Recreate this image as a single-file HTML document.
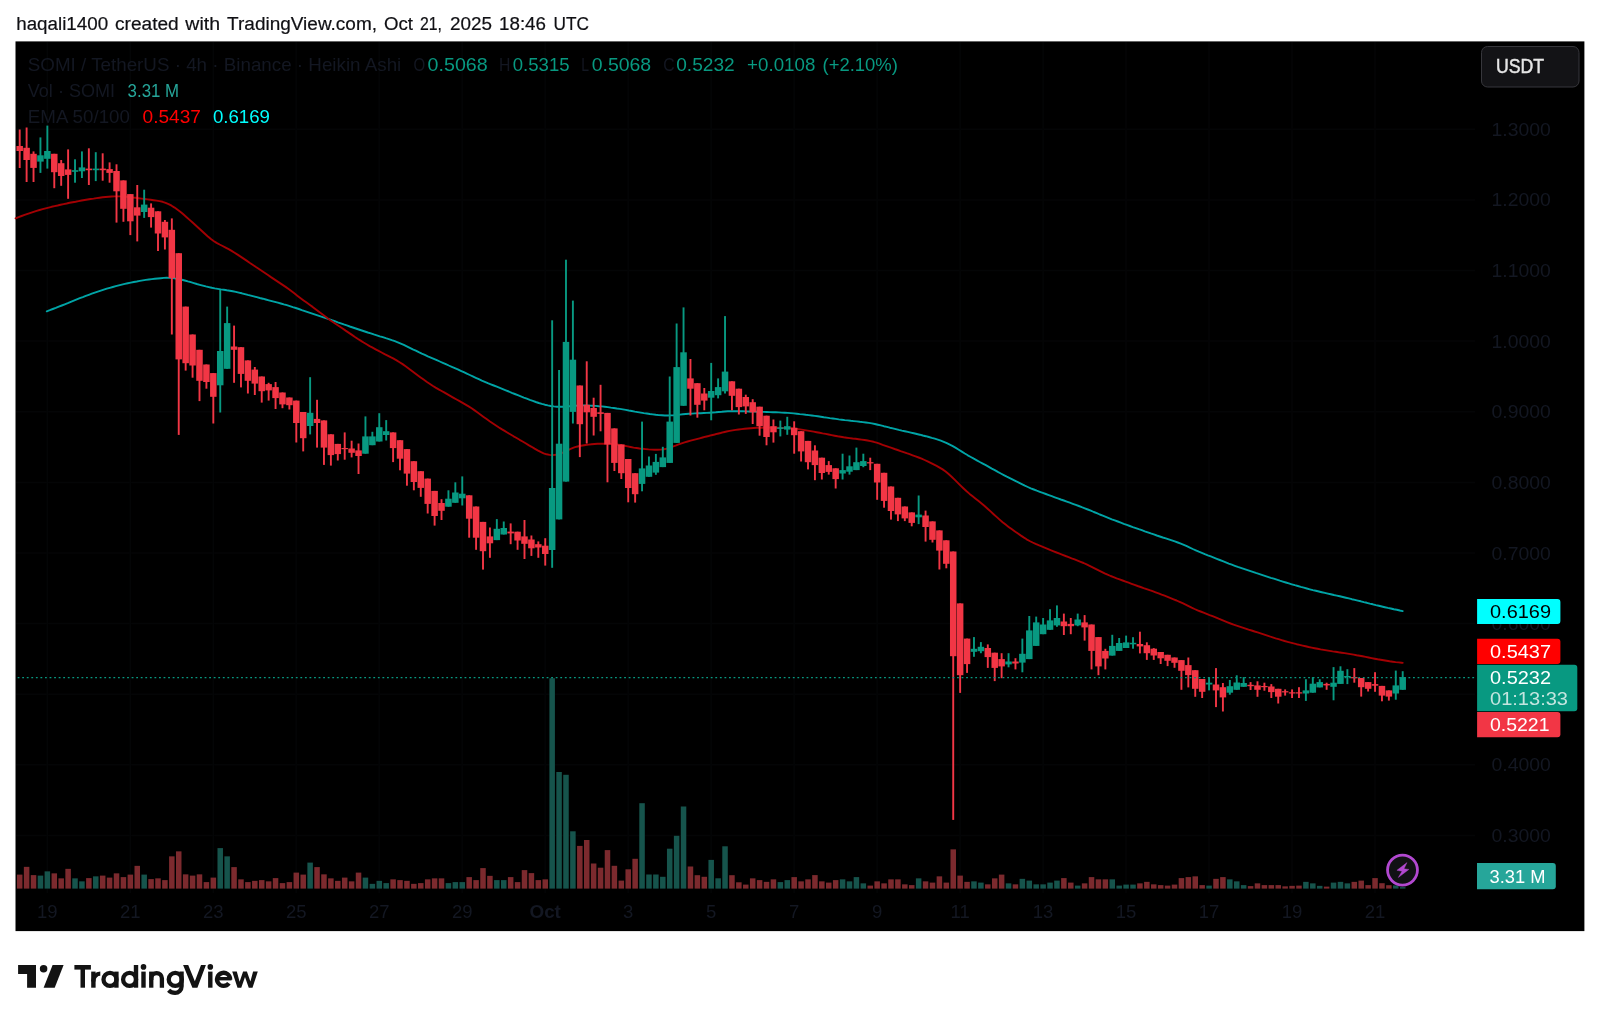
<!DOCTYPE html>
<html><head><meta charset="utf-8"><title>SOMI / TetherUS chart</title>
<style>html,body{margin:0;padding:0;background:#fff;}body{width:1600px;height:1023px;overflow:hidden;font-family:"Liberation Sans",sans-serif;}svg{display:block;will-change:transform;}text{font-family:"Liberation Sans",sans-serif;}</style>
</head><body>
<svg width="1600" height="1023" viewBox="0 0 1600 1023">
<rect x="0" y="0" width="1600" height="1023" fill="#ffffff"/>
<text x="16.2" y="29.9" font-size="18" fill="#101014" stroke="#101014" stroke-width="0.2" textLength="91.9" lengthAdjust="spacingAndGlyphs">haqali1400</text>
<text x="115" y="29.9" font-size="18" fill="#101014" stroke="#101014" stroke-width="0.2" textLength="63.75" lengthAdjust="spacingAndGlyphs">created</text>
<text x="185.3" y="29.9" font-size="18" fill="#101014" stroke="#101014" stroke-width="0.2" textLength="34.7" lengthAdjust="spacingAndGlyphs">with</text>
<text x="227.1" y="29.9" font-size="18" fill="#101014" stroke="#101014" stroke-width="0.2" textLength="149.9" lengthAdjust="spacingAndGlyphs">TradingView.com,</text>
<text x="384" y="29.9" font-size="18" fill="#101014" stroke="#101014" stroke-width="0.2" textLength="29" lengthAdjust="spacingAndGlyphs">Oct</text>
<text x="420" y="29.9" font-size="18" fill="#101014" stroke="#101014" stroke-width="0.2" textLength="22" lengthAdjust="spacingAndGlyphs">21,</text>
<text x="450" y="29.9" font-size="18" fill="#101014" stroke="#101014" stroke-width="0.2" textLength="42" lengthAdjust="spacingAndGlyphs">2025</text>
<text x="499" y="29.9" font-size="18" fill="#101014" stroke="#101014" stroke-width="0.2" textLength="47" lengthAdjust="spacingAndGlyphs">18:46</text>
<text x="553.6" y="29.9" font-size="18" fill="#101014" stroke="#101014" stroke-width="0.2" textLength="35.4" lengthAdjust="spacingAndGlyphs">UTC</text>
<rect x="15.5" y="41.4" width="1568.9" height="889.7" fill="#000000"/>
<g stroke="#040506" stroke-width="1.5">
<line x1="16" y1="129.3" x2="1475" y2="129.3"/>
<line x1="16" y1="199.9" x2="1475" y2="199.9"/>
<line x1="16" y1="270.5" x2="1475" y2="270.5"/>
<line x1="16" y1="341.1" x2="1475" y2="341.1"/>
<line x1="16" y1="411.7" x2="1475" y2="411.7"/>
<line x1="16" y1="482.4" x2="1475" y2="482.4"/>
<line x1="16" y1="553.0" x2="1475" y2="553.0"/>
<line x1="16" y1="623.6" x2="1475" y2="623.6"/>
<line x1="16" y1="694.2" x2="1475" y2="694.2"/>
<line x1="16" y1="764.8" x2="1475" y2="764.8"/>
<line x1="16" y1="835.4" x2="1475" y2="835.4"/>
<line x1="47.3" y1="42" x2="47.3" y2="893"/>
<line x1="130.3" y1="42" x2="130.3" y2="893"/>
<line x1="213.3" y1="42" x2="213.3" y2="893"/>
<line x1="296.2" y1="42" x2="296.2" y2="893"/>
<line x1="379.2" y1="42" x2="379.2" y2="893"/>
<line x1="462.2" y1="42" x2="462.2" y2="893"/>
<line x1="545.2" y1="42" x2="545.2" y2="893"/>
<line x1="628.2" y1="42" x2="628.2" y2="893"/>
<line x1="711.1" y1="42" x2="711.1" y2="893"/>
<line x1="794.1" y1="42" x2="794.1" y2="893"/>
<line x1="877.1" y1="42" x2="877.1" y2="893"/>
<line x1="960.1" y1="42" x2="960.1" y2="893"/>
<line x1="1043.1" y1="42" x2="1043.1" y2="893"/>
<line x1="1126.0" y1="42" x2="1126.0" y2="893"/>
<line x1="1209.0" y1="42" x2="1209.0" y2="893"/>
<line x1="1292.0" y1="42" x2="1292.0" y2="893"/>
<line x1="1375.0" y1="42" x2="1375.0" y2="893"/>
</g>
<g shape-rendering="auto">
<rect x="16.95" y="874.60" width="5.5" height="14.00" fill="#7c2a2e"/>
<rect x="23.86" y="866.85" width="5.5" height="21.75" fill="#7c2a2e"/>
<rect x="30.78" y="875.10" width="5.5" height="13.50" fill="#7c2a2e"/>
<rect x="37.70" y="875.60" width="5.5" height="13.00" fill="#16544c"/>
<rect x="44.61" y="871.35" width="5.5" height="17.25" fill="#16544c"/>
<rect x="51.53" y="873.35" width="5.5" height="15.25" fill="#7c2a2e"/>
<rect x="58.44" y="878.35" width="5.5" height="10.25" fill="#7c2a2e"/>
<rect x="65.36" y="868.85" width="5.5" height="19.75" fill="#7c2a2e"/>
<rect x="72.27" y="878.35" width="5.5" height="10.25" fill="#16544c"/>
<rect x="79.19" y="881.35" width="5.5" height="7.25" fill="#16544c"/>
<rect x="86.10" y="878.10" width="5.5" height="10.50" fill="#7c2a2e"/>
<rect x="93.02" y="876.35" width="5.5" height="12.25" fill="#16544c"/>
<rect x="99.93" y="875.60" width="5.5" height="13.00" fill="#7c2a2e"/>
<rect x="106.84" y="877.60" width="5.5" height="11.00" fill="#7c2a2e"/>
<rect x="113.76" y="873.35" width="5.5" height="15.25" fill="#7c2a2e"/>
<rect x="120.67" y="877.10" width="5.5" height="11.50" fill="#7c2a2e"/>
<rect x="127.59" y="874.60" width="5.5" height="14.00" fill="#7c2a2e"/>
<rect x="134.50" y="865.85" width="5.5" height="22.75" fill="#7c2a2e"/>
<rect x="141.42" y="874.60" width="5.5" height="14.00" fill="#16544c"/>
<rect x="148.33" y="879.10" width="5.5" height="9.50" fill="#7c2a2e"/>
<rect x="155.25" y="878.35" width="5.5" height="10.25" fill="#7c2a2e"/>
<rect x="162.16" y="880.10" width="5.5" height="8.50" fill="#7c2a2e"/>
<rect x="169.08" y="856.35" width="5.5" height="32.25" fill="#7c2a2e"/>
<rect x="175.99" y="851.35" width="5.5" height="37.25" fill="#7c2a2e"/>
<rect x="182.91" y="874.35" width="5.5" height="14.25" fill="#7c2a2e"/>
<rect x="189.82" y="875.60" width="5.5" height="13.00" fill="#7c2a2e"/>
<rect x="196.74" y="874.35" width="5.5" height="14.25" fill="#7c2a2e"/>
<rect x="203.66" y="882.10" width="5.5" height="6.50" fill="#7c2a2e"/>
<rect x="210.57" y="877.60" width="5.5" height="11.00" fill="#7c2a2e"/>
<rect x="217.48" y="848.10" width="5.5" height="40.50" fill="#16544c"/>
<rect x="224.40" y="856.35" width="5.5" height="32.25" fill="#16544c"/>
<rect x="231.31" y="867.10" width="5.5" height="21.50" fill="#7c2a2e"/>
<rect x="238.23" y="879.35" width="5.5" height="9.25" fill="#7c2a2e"/>
<rect x="245.14" y="882.10" width="5.5" height="6.50" fill="#7c2a2e"/>
<rect x="252.06" y="880.85" width="5.5" height="7.75" fill="#7c2a2e"/>
<rect x="258.98" y="880.10" width="5.5" height="8.50" fill="#7c2a2e"/>
<rect x="265.89" y="881.35" width="5.5" height="7.25" fill="#7c2a2e"/>
<rect x="272.81" y="878.10" width="5.5" height="10.50" fill="#7c2a2e"/>
<rect x="279.72" y="883.10" width="5.5" height="5.50" fill="#7c2a2e"/>
<rect x="286.63" y="882.10" width="5.5" height="6.50" fill="#7c2a2e"/>
<rect x="293.55" y="872.60" width="5.5" height="16.00" fill="#7c2a2e"/>
<rect x="300.46" y="874.60" width="5.5" height="14.00" fill="#7c2a2e"/>
<rect x="307.38" y="862.60" width="5.5" height="26.00" fill="#16544c"/>
<rect x="314.30" y="867.10" width="5.5" height="21.50" fill="#7c2a2e"/>
<rect x="321.21" y="874.35" width="5.5" height="14.25" fill="#7c2a2e"/>
<rect x="328.12" y="878.35" width="5.5" height="10.25" fill="#7c2a2e"/>
<rect x="335.04" y="880.85" width="5.5" height="7.75" fill="#7c2a2e"/>
<rect x="341.95" y="877.60" width="5.5" height="11.00" fill="#7c2a2e"/>
<rect x="348.87" y="881.35" width="5.5" height="7.25" fill="#7c2a2e"/>
<rect x="355.78" y="872.60" width="5.5" height="16.00" fill="#7c2a2e"/>
<rect x="362.70" y="877.60" width="5.5" height="11.00" fill="#16544c"/>
<rect x="369.62" y="883.85" width="5.5" height="4.75" fill="#16544c"/>
<rect x="376.53" y="880.85" width="5.5" height="7.75" fill="#16544c"/>
<rect x="383.44" y="883.10" width="5.5" height="5.50" fill="#16544c"/>
<rect x="390.36" y="879.35" width="5.5" height="9.25" fill="#7c2a2e"/>
<rect x="397.27" y="880.10" width="5.5" height="8.50" fill="#7c2a2e"/>
<rect x="404.19" y="880.85" width="5.5" height="7.75" fill="#7c2a2e"/>
<rect x="411.11" y="883.85" width="5.5" height="4.75" fill="#7c2a2e"/>
<rect x="418.02" y="883.10" width="5.5" height="5.50" fill="#7c2a2e"/>
<rect x="424.94" y="879.35" width="5.5" height="9.25" fill="#7c2a2e"/>
<rect x="431.85" y="878.35" width="5.5" height="10.25" fill="#7c2a2e"/>
<rect x="438.76" y="878.35" width="5.5" height="10.25" fill="#7c2a2e"/>
<rect x="445.68" y="883.10" width="5.5" height="5.50" fill="#16544c"/>
<rect x="452.59" y="882.10" width="5.5" height="6.50" fill="#16544c"/>
<rect x="459.51" y="882.10" width="5.5" height="6.50" fill="#16544c"/>
<rect x="466.43" y="877.10" width="5.5" height="11.50" fill="#7c2a2e"/>
<rect x="473.34" y="880.10" width="5.5" height="8.50" fill="#7c2a2e"/>
<rect x="480.25" y="868.10" width="5.5" height="20.50" fill="#7c2a2e"/>
<rect x="487.17" y="875.85" width="5.5" height="12.75" fill="#7c2a2e"/>
<rect x="494.08" y="880.10" width="5.5" height="8.50" fill="#16544c"/>
<rect x="501.00" y="880.10" width="5.5" height="8.50" fill="#16544c"/>
<rect x="507.91" y="877.10" width="5.5" height="11.50" fill="#7c2a2e"/>
<rect x="514.83" y="882.10" width="5.5" height="6.50" fill="#7c2a2e"/>
<rect x="521.75" y="870.10" width="5.5" height="18.50" fill="#7c2a2e"/>
<rect x="528.66" y="873.10" width="5.5" height="15.50" fill="#7c2a2e"/>
<rect x="535.58" y="880.10" width="5.5" height="8.50" fill="#7c2a2e"/>
<rect x="542.49" y="879.35" width="5.5" height="9.25" fill="#7c2a2e"/>
<rect x="549.41" y="678.20" width="5.5" height="210.40" fill="#16544c"/>
<rect x="556.32" y="772.00" width="5.5" height="116.60" fill="#16544c"/>
<rect x="563.24" y="774.80" width="5.5" height="113.80" fill="#16544c"/>
<rect x="570.15" y="831.30" width="5.5" height="57.30" fill="#16544c"/>
<rect x="577.07" y="845.90" width="5.5" height="42.70" fill="#7c2a2e"/>
<rect x="583.98" y="840.00" width="5.5" height="48.60" fill="#7c2a2e"/>
<rect x="590.90" y="863.50" width="5.5" height="25.10" fill="#7c2a2e"/>
<rect x="597.81" y="867.70" width="5.5" height="20.90" fill="#7c2a2e"/>
<rect x="604.73" y="850.10" width="5.5" height="38.50" fill="#7c2a2e"/>
<rect x="611.64" y="865.80" width="5.5" height="22.80" fill="#7c2a2e"/>
<rect x="618.56" y="880.60" width="5.5" height="8.00" fill="#7c2a2e"/>
<rect x="625.47" y="869.30" width="5.5" height="19.30" fill="#7c2a2e"/>
<rect x="632.39" y="858.80" width="5.5" height="29.80" fill="#7c2a2e"/>
<rect x="639.30" y="803.20" width="5.5" height="85.40" fill="#16544c"/>
<rect x="646.22" y="874.50" width="5.5" height="14.10" fill="#16544c"/>
<rect x="653.13" y="874.50" width="5.5" height="14.10" fill="#16544c"/>
<rect x="660.05" y="876.80" width="5.5" height="11.80" fill="#16544c"/>
<rect x="666.96" y="848.70" width="5.5" height="39.90" fill="#16544c"/>
<rect x="673.88" y="835.80" width="5.5" height="52.80" fill="#16544c"/>
<rect x="680.79" y="806.50" width="5.5" height="82.10" fill="#16544c"/>
<rect x="687.71" y="866.50" width="5.5" height="22.10" fill="#7c2a2e"/>
<rect x="694.62" y="875.20" width="5.5" height="13.40" fill="#7c2a2e"/>
<rect x="701.54" y="876.80" width="5.5" height="11.80" fill="#7c2a2e"/>
<rect x="708.45" y="859.90" width="5.5" height="28.70" fill="#16544c"/>
<rect x="715.37" y="878.30" width="5.5" height="10.30" fill="#16544c"/>
<rect x="722.28" y="846.30" width="5.5" height="42.30" fill="#16544c"/>
<rect x="729.20" y="875.20" width="5.5" height="13.40" fill="#7c2a2e"/>
<rect x="736.11" y="882.30" width="5.5" height="6.30" fill="#7c2a2e"/>
<rect x="743.03" y="884.60" width="5.5" height="4.00" fill="#7c2a2e"/>
<rect x="749.94" y="878.35" width="5.5" height="10.25" fill="#7c2a2e"/>
<rect x="756.86" y="880.10" width="5.5" height="8.50" fill="#7c2a2e"/>
<rect x="763.77" y="881.85" width="5.5" height="6.75" fill="#7c2a2e"/>
<rect x="770.69" y="879.35" width="5.5" height="9.25" fill="#7c2a2e"/>
<rect x="777.60" y="882.10" width="5.5" height="6.50" fill="#16544c"/>
<rect x="784.52" y="880.10" width="5.5" height="8.50" fill="#16544c"/>
<rect x="791.43" y="877.10" width="5.5" height="11.50" fill="#7c2a2e"/>
<rect x="798.35" y="881.35" width="5.5" height="7.25" fill="#7c2a2e"/>
<rect x="805.26" y="879.35" width="5.5" height="9.25" fill="#7c2a2e"/>
<rect x="812.18" y="875.10" width="5.5" height="13.50" fill="#7c2a2e"/>
<rect x="819.09" y="881.35" width="5.5" height="7.25" fill="#7c2a2e"/>
<rect x="826.00" y="882.60" width="5.5" height="6.00" fill="#7c2a2e"/>
<rect x="832.92" y="880.10" width="5.5" height="8.50" fill="#7c2a2e"/>
<rect x="839.84" y="879.35" width="5.5" height="9.25" fill="#16544c"/>
<rect x="846.75" y="881.35" width="5.5" height="7.25" fill="#16544c"/>
<rect x="853.67" y="877.10" width="5.5" height="11.50" fill="#16544c"/>
<rect x="860.58" y="883.35" width="5.5" height="5.25" fill="#16544c"/>
<rect x="867.50" y="885.60" width="5.5" height="3.00" fill="#7c2a2e"/>
<rect x="874.41" y="881.35" width="5.5" height="7.25" fill="#7c2a2e"/>
<rect x="881.33" y="883.35" width="5.5" height="5.25" fill="#7c2a2e"/>
<rect x="888.24" y="879.35" width="5.5" height="9.25" fill="#7c2a2e"/>
<rect x="895.16" y="879.35" width="5.5" height="9.25" fill="#7c2a2e"/>
<rect x="902.07" y="884.35" width="5.5" height="4.25" fill="#7c2a2e"/>
<rect x="908.99" y="885.10" width="5.5" height="3.50" fill="#7c2a2e"/>
<rect x="915.90" y="878.35" width="5.5" height="10.25" fill="#16544c"/>
<rect x="922.82" y="881.35" width="5.5" height="7.25" fill="#7c2a2e"/>
<rect x="929.73" y="882.60" width="5.5" height="6.00" fill="#7c2a2e"/>
<rect x="936.65" y="876.35" width="5.5" height="12.25" fill="#7c2a2e"/>
<rect x="943.56" y="882.60" width="5.5" height="6.00" fill="#7c2a2e"/>
<rect x="950.48" y="849.35" width="5.5" height="39.25" fill="#7c2a2e"/>
<rect x="957.39" y="875.60" width="5.5" height="13.00" fill="#7c2a2e"/>
<rect x="964.31" y="881.85" width="5.5" height="6.75" fill="#7c2a2e"/>
<rect x="971.22" y="881.35" width="5.5" height="7.25" fill="#16544c"/>
<rect x="978.14" y="882.60" width="5.5" height="6.00" fill="#16544c"/>
<rect x="985.05" y="884.35" width="5.5" height="4.25" fill="#7c2a2e"/>
<rect x="991.97" y="878.35" width="5.5" height="10.25" fill="#7c2a2e"/>
<rect x="998.88" y="874.60" width="5.5" height="14.00" fill="#7c2a2e"/>
<rect x="1005.80" y="883.35" width="5.5" height="5.25" fill="#16544c"/>
<rect x="1012.71" y="884.35" width="5.5" height="4.25" fill="#7c2a2e"/>
<rect x="1019.62" y="878.85" width="5.5" height="9.75" fill="#16544c"/>
<rect x="1026.54" y="880.60" width="5.5" height="8.00" fill="#16544c"/>
<rect x="1033.45" y="884.35" width="5.5" height="4.25" fill="#16544c"/>
<rect x="1040.37" y="884.35" width="5.5" height="4.25" fill="#16544c"/>
<rect x="1047.29" y="882.60" width="5.5" height="6.00" fill="#16544c"/>
<rect x="1054.20" y="880.60" width="5.5" height="8.00" fill="#16544c"/>
<rect x="1061.12" y="878.10" width="5.5" height="10.50" fill="#7c2a2e"/>
<rect x="1068.03" y="882.60" width="5.5" height="6.00" fill="#7c2a2e"/>
<rect x="1074.95" y="885.60" width="5.5" height="3.00" fill="#16544c"/>
<rect x="1081.86" y="883.35" width="5.5" height="5.25" fill="#7c2a2e"/>
<rect x="1088.78" y="877.10" width="5.5" height="11.50" fill="#7c2a2e"/>
<rect x="1095.69" y="879.35" width="5.5" height="9.25" fill="#7c2a2e"/>
<rect x="1102.61" y="879.35" width="5.5" height="9.25" fill="#7c2a2e"/>
<rect x="1109.52" y="879.35" width="5.5" height="9.25" fill="#16544c"/>
<rect x="1116.43" y="885.60" width="5.5" height="3.00" fill="#16544c"/>
<rect x="1123.35" y="884.60" width="5.5" height="4.00" fill="#16544c"/>
<rect x="1130.27" y="884.60" width="5.5" height="4.00" fill="#16544c"/>
<rect x="1137.18" y="883.35" width="5.5" height="5.25" fill="#7c2a2e"/>
<rect x="1144.10" y="881.85" width="5.5" height="6.75" fill="#7c2a2e"/>
<rect x="1151.01" y="884.35" width="5.5" height="4.25" fill="#7c2a2e"/>
<rect x="1157.92" y="885.10" width="5.5" height="3.50" fill="#7c2a2e"/>
<rect x="1164.84" y="885.60" width="5.5" height="3.00" fill="#7c2a2e"/>
<rect x="1171.76" y="884.60" width="5.5" height="4.00" fill="#7c2a2e"/>
<rect x="1178.67" y="878.10" width="5.5" height="10.50" fill="#7c2a2e"/>
<rect x="1185.59" y="877.10" width="5.5" height="11.50" fill="#7c2a2e"/>
<rect x="1192.50" y="876.35" width="5.5" height="12.25" fill="#7c2a2e"/>
<rect x="1199.41" y="885.10" width="5.5" height="3.50" fill="#7c2a2e"/>
<rect x="1206.33" y="885.60" width="5.5" height="3.00" fill="#16544c"/>
<rect x="1213.25" y="878.85" width="5.5" height="9.75" fill="#7c2a2e"/>
<rect x="1220.16" y="877.10" width="5.5" height="11.50" fill="#7c2a2e"/>
<rect x="1227.08" y="879.35" width="5.5" height="9.25" fill="#16544c"/>
<rect x="1233.99" y="881.35" width="5.5" height="7.25" fill="#16544c"/>
<rect x="1240.90" y="885.10" width="5.5" height="3.50" fill="#16544c"/>
<rect x="1247.82" y="886.10" width="5.5" height="2.50" fill="#7c2a2e"/>
<rect x="1254.74" y="883.35" width="5.5" height="5.25" fill="#7c2a2e"/>
<rect x="1261.65" y="885.10" width="5.5" height="3.50" fill="#7c2a2e"/>
<rect x="1268.57" y="885.10" width="5.5" height="3.50" fill="#7c2a2e"/>
<rect x="1275.48" y="885.10" width="5.5" height="3.50" fill="#7c2a2e"/>
<rect x="1282.39" y="886.35" width="5.5" height="2.25" fill="#7c2a2e"/>
<rect x="1289.31" y="885.85" width="5.5" height="2.75" fill="#7c2a2e"/>
<rect x="1296.23" y="885.60" width="5.5" height="3.00" fill="#7c2a2e"/>
<rect x="1303.14" y="881.85" width="5.5" height="6.75" fill="#16544c"/>
<rect x="1310.06" y="883.35" width="5.5" height="5.25" fill="#16544c"/>
<rect x="1316.97" y="885.85" width="5.5" height="2.75" fill="#16544c"/>
<rect x="1323.88" y="886.60" width="5.5" height="2.00" fill="#7c2a2e"/>
<rect x="1330.80" y="882.60" width="5.5" height="6.00" fill="#16544c"/>
<rect x="1337.72" y="881.85" width="5.5" height="6.75" fill="#16544c"/>
<rect x="1344.63" y="883.35" width="5.5" height="5.25" fill="#16544c"/>
<rect x="1351.55" y="881.85" width="5.5" height="6.75" fill="#7c2a2e"/>
<rect x="1358.46" y="880.60" width="5.5" height="8.00" fill="#7c2a2e"/>
<rect x="1365.38" y="885.10" width="5.5" height="3.50" fill="#7c2a2e"/>
<rect x="1372.29" y="878.10" width="5.5" height="10.50" fill="#7c2a2e"/>
<rect x="1379.21" y="883.20" width="5.5" height="5.40" fill="#7c2a2e"/>
<rect x="1386.12" y="885.20" width="5.5" height="3.40" fill="#7c2a2e"/>
<rect x="1393.04" y="885.40" width="5.5" height="3.20" fill="#16544c"/>
<rect x="1399.95" y="887.10" width="5.5" height="1.50" fill="#16544c"/>
</g>
<path d="M46.8,311.3 L49.8,310.2 L52.8,309.0 L55.8,307.9 L58.8,306.7 L61.8,305.5 L64.8,304.3 L67.8,303.1 L70.8,301.8 L73.8,300.6 L76.8,299.4 L79.8,298.2 L82.8,297.1 L85.8,295.9 L88.8,294.8 L91.8,293.7 L94.8,292.7 L97.8,291.7 L100.8,290.7 L103.8,289.7 L106.8,288.7 L109.8,287.8 L112.8,287.0 L115.8,286.2 L118.8,285.4 L121.8,284.6 L124.8,283.9 L127.8,283.2 L130.8,282.6 L133.8,282.0 L136.8,281.5 L139.8,280.9 L142.8,280.4 L145.8,279.9 L148.8,279.5 L151.8,279.1 L154.8,278.8 L157.8,278.5 L160.8,278.2 L163.8,277.9 L166.8,277.8 L169.8,277.9 L172.8,278.1 L175.8,278.6 L178.8,279.1 L181.8,279.8 L184.8,280.5 L187.8,281.4 L190.8,282.2 L193.8,283.1 L196.8,284.0 L199.8,284.8 L202.8,285.6 L205.8,286.4 L208.8,287.1 L211.8,287.8 L214.8,288.4 L217.8,288.9 L220.8,289.4 L223.8,289.8 L226.8,290.3 L229.8,290.7 L232.8,291.3 L235.8,291.9 L238.8,292.6 L241.8,293.3 L244.8,294.1 L247.8,294.9 L250.8,295.6 L253.8,296.4 L256.8,297.2 L259.8,298.0 L262.8,298.7 L265.8,299.5 L268.8,300.3 L271.8,301.1 L274.8,301.9 L277.8,302.7 L280.8,303.5 L283.8,304.4 L286.8,305.2 L289.8,306.1 L292.8,307.1 L295.8,308.0 L298.8,309.0 L301.8,310.1 L304.8,311.1 L307.8,312.1 L310.8,313.1 L313.8,314.1 L316.8,315.1 L319.8,316.1 L322.8,317.1 L325.8,318.1 L328.8,319.1 L331.8,320.2 L334.8,321.2 L337.8,322.3 L340.8,323.3 L343.8,324.4 L346.8,325.4 L349.8,326.5 L352.8,327.5 L355.8,328.5 L358.8,329.5 L361.8,330.5 L364.8,331.5 L367.8,332.5 L370.8,333.4 L373.8,334.4 L376.8,335.3 L379.8,336.3 L382.8,337.2 L385.8,338.2 L388.8,339.1 L391.8,340.2 L394.8,341.2 L397.8,342.3 L400.8,343.6 L403.8,344.9 L406.8,346.3 L409.8,347.8 L412.8,349.3 L415.8,350.7 L418.8,352.2 L421.8,353.6 L424.8,354.9 L427.8,356.3 L430.8,357.6 L433.8,358.9 L436.8,360.2 L439.8,361.5 L442.8,362.8 L445.8,364.1 L448.8,365.5 L451.8,366.8 L454.8,368.1 L457.8,369.4 L460.8,370.8 L463.8,372.2 L466.8,373.6 L469.8,375.0 L472.8,376.4 L475.8,377.8 L478.8,379.2 L481.8,380.6 L484.8,381.8 L487.8,383.1 L490.8,384.3 L493.8,385.5 L496.8,386.7 L499.8,387.9 L502.8,389.1 L505.8,390.3 L508.8,391.5 L511.8,392.8 L514.8,394.0 L517.8,395.2 L520.8,396.4 L523.8,397.6 L526.8,398.7 L529.8,399.9 L532.8,400.9 L535.8,402.0 L538.8,403.0 L541.8,403.9 L544.8,404.7 L547.8,405.4 L550.8,406.0 L553.8,406.4 L556.8,406.7 L559.8,406.8 L562.8,406.7 L565.8,406.5 L568.8,406.3 L571.8,406.1 L574.8,405.8 L577.8,405.6 L580.8,405.4 L583.8,405.4 L586.8,405.4 L589.8,405.6 L592.8,405.7 L595.8,405.9 L598.8,406.2 L601.8,406.4 L604.8,406.7 L607.8,407.1 L610.8,407.6 L613.8,408.0 L616.8,408.5 L619.8,408.9 L622.8,409.4 L625.8,409.9 L628.8,410.5 L631.8,411.0 L634.8,411.6 L637.8,412.1 L640.8,412.6 L643.8,413.1 L646.8,413.5 L649.8,414.0 L652.8,414.4 L655.8,414.8 L658.8,415.1 L661.8,415.3 L664.8,415.5 L667.8,415.5 L670.8,415.4 L673.8,415.2 L676.8,414.9 L679.8,414.6 L682.8,414.3 L685.8,414.0 L688.8,413.8 L691.8,413.6 L694.8,413.4 L697.8,413.3 L700.8,413.2 L703.8,413.0 L706.8,412.9 L709.8,412.7 L712.8,412.5 L715.8,412.3 L718.8,412.0 L721.8,411.8 L724.8,411.5 L727.8,411.3 L730.8,411.2 L733.8,411.2 L736.8,411.2 L739.8,411.2 L742.8,411.3 L745.8,411.4 L748.8,411.5 L751.8,411.5 L754.8,411.6 L757.8,411.7 L760.8,411.8 L763.8,411.9 L766.8,412.0 L769.8,412.1 L772.8,412.2 L775.8,412.3 L778.8,412.4 L781.8,412.6 L784.8,412.7 L787.8,412.9 L790.8,413.1 L793.8,413.4 L796.8,413.7 L799.8,414.1 L802.8,414.4 L805.8,414.8 L808.8,415.1 L811.8,415.5 L814.8,415.9 L817.8,416.3 L820.8,416.7 L823.8,417.2 L826.8,417.6 L829.8,418.1 L832.8,418.5 L835.8,418.9 L838.8,419.4 L841.8,419.7 L844.8,420.1 L847.8,420.4 L850.8,420.8 L853.8,421.1 L856.8,421.4 L859.8,421.8 L862.8,422.1 L865.8,422.5 L868.8,422.9 L871.8,423.4 L874.8,424.0 L877.8,424.7 L880.8,425.4 L883.8,426.2 L886.8,426.9 L889.8,427.7 L892.8,428.4 L895.8,429.1 L898.8,429.9 L901.8,430.6 L904.8,431.2 L907.8,431.9 L910.8,432.6 L913.8,433.3 L916.8,434.0 L919.8,434.7 L922.8,435.5 L925.8,436.2 L928.8,437.0 L931.8,437.9 L934.8,438.7 L937.8,439.6 L940.8,440.6 L943.8,441.8 L946.8,443.1 L949.8,444.6 L952.8,446.2 L955.8,447.9 L958.8,449.7 L961.8,451.6 L964.8,453.5 L967.8,455.3 L970.8,457.0 L973.8,458.7 L976.8,460.3 L979.8,462.0 L982.8,463.6 L985.8,465.2 L988.8,466.9 L991.8,468.6 L994.8,470.2 L997.8,471.9 L1000.8,473.5 L1003.8,475.1 L1006.8,476.7 L1009.8,478.2 L1012.8,479.7 L1015.8,481.2 L1018.8,482.7 L1021.8,484.2 L1024.8,485.7 L1027.8,487.0 L1030.8,488.3 L1033.8,489.5 L1036.8,490.7 L1039.8,491.8 L1042.8,492.9 L1045.8,494.0 L1048.8,495.1 L1051.8,496.2 L1054.8,497.3 L1057.8,498.4 L1060.8,499.5 L1063.8,500.5 L1066.8,501.6 L1069.8,502.7 L1072.8,503.8 L1075.8,504.9 L1078.8,506.0 L1081.8,507.2 L1084.8,508.3 L1087.8,509.5 L1090.8,510.7 L1093.8,512.0 L1096.8,513.2 L1099.8,514.5 L1102.8,515.7 L1105.8,516.9 L1108.8,518.1 L1111.8,519.3 L1114.8,520.4 L1117.8,521.5 L1120.8,522.6 L1123.8,523.8 L1126.8,524.9 L1129.8,526.0 L1132.8,527.1 L1135.8,528.1 L1138.8,529.2 L1141.8,530.2 L1144.8,531.3 L1147.8,532.3 L1150.8,533.4 L1153.8,534.4 L1156.8,535.5 L1159.8,536.5 L1162.8,537.5 L1165.8,538.4 L1168.8,539.4 L1171.8,540.4 L1174.8,541.4 L1177.8,542.5 L1180.8,543.6 L1183.8,544.9 L1186.8,546.2 L1189.8,547.6 L1192.8,549.0 L1195.8,550.3 L1198.8,551.6 L1201.8,552.8 L1204.8,554.1 L1207.8,555.3 L1210.8,556.4 L1213.8,557.6 L1216.8,558.8 L1219.8,560.0 L1222.8,561.2 L1225.8,562.4 L1228.8,563.6 L1231.8,564.7 L1234.8,565.8 L1237.8,566.9 L1240.8,567.9 L1243.8,568.9 L1246.8,569.9 L1249.8,570.9 L1252.8,571.9 L1255.8,572.9 L1258.8,573.8 L1261.8,574.8 L1264.8,575.8 L1267.8,576.8 L1270.8,577.8 L1273.8,578.7 L1276.8,579.7 L1279.8,580.7 L1282.8,581.6 L1285.8,582.5 L1288.8,583.4 L1291.8,584.3 L1294.8,585.2 L1297.8,586.0 L1300.8,586.9 L1303.8,587.7 L1306.8,588.5 L1309.8,589.3 L1312.8,590.1 L1315.8,590.8 L1318.8,591.5 L1321.8,592.2 L1324.8,592.9 L1327.8,593.6 L1330.8,594.3 L1333.8,595.0 L1336.8,595.6 L1339.8,596.3 L1342.8,597.0 L1345.8,597.7 L1348.8,598.4 L1351.8,599.2 L1354.8,599.9 L1357.8,600.6 L1360.8,601.3 L1363.8,602.1 L1366.8,602.8 L1369.8,603.6 L1372.8,604.3 L1375.8,605.1 L1378.8,605.8 L1381.8,606.5 L1384.8,607.2 L1387.8,607.9 L1390.8,608.5 L1393.8,609.2 L1396.8,609.8 L1399.8,610.5 L1402.7,611.1" fill="none" stroke="#00a4a6" stroke-width="1.9" stroke-linejoin="round" stroke-linecap="round"/>
<path d="M15.6,218.3 L18.6,217.2 L21.6,216.0 L24.6,214.9 L27.6,213.8 L30.6,212.8 L33.6,211.8 L36.6,210.9 L39.6,210.0 L42.6,209.2 L45.6,208.4 L48.6,207.6 L51.6,206.8 L54.6,206.1 L57.6,205.5 L60.6,204.8 L63.6,204.1 L66.6,203.5 L69.6,202.8 L72.6,202.2 L75.6,201.7 L78.6,201.1 L81.6,200.5 L84.6,200.0 L87.6,199.5 L90.6,199.0 L93.6,198.6 L96.6,198.1 L99.6,197.7 L102.6,197.3 L105.6,197.0 L108.6,196.7 L111.6,196.5 L114.6,196.4 L117.6,196.4 L120.6,196.4 L123.6,196.6 L126.6,196.8 L129.6,197.1 L132.6,197.5 L135.6,197.8 L138.6,198.2 L141.6,198.6 L144.6,199.0 L147.6,199.4 L150.6,199.8 L153.6,200.2 L156.6,200.6 L159.6,201.1 L162.6,201.8 L165.6,202.8 L168.6,204.1 L171.6,205.7 L174.6,207.6 L177.6,209.8 L180.6,212.1 L183.6,214.6 L186.6,217.2 L189.6,219.9 L192.6,222.5 L195.6,225.2 L198.6,228.0 L201.6,230.7 L204.6,233.5 L207.6,236.2 L210.6,238.7 L213.6,241.0 L216.6,242.9 L219.6,244.5 L222.6,246.0 L225.6,247.6 L228.6,249.2 L231.6,250.9 L234.6,252.7 L237.6,254.6 L240.6,256.6 L243.6,258.6 L246.6,260.6 L249.6,262.7 L252.6,264.7 L255.6,266.8 L258.6,268.8 L261.6,270.8 L264.6,272.8 L267.6,274.8 L270.6,276.9 L273.6,278.9 L276.6,280.9 L279.6,282.9 L282.6,284.9 L285.6,286.9 L288.6,289.0 L291.6,291.3 L294.6,293.5 L297.6,295.9 L300.6,298.2 L303.6,300.4 L306.6,302.6 L309.6,304.8 L312.6,306.9 L315.6,309.2 L318.6,311.5 L321.6,313.8 L324.6,316.1 L327.6,318.3 L330.6,320.5 L333.6,322.5 L336.6,324.5 L339.6,326.5 L342.6,328.5 L345.6,330.6 L348.6,332.6 L351.6,334.6 L354.6,336.7 L357.6,338.7 L360.6,340.6 L363.6,342.5 L366.6,344.3 L369.6,346.1 L372.6,347.7 L375.6,349.3 L378.6,350.9 L381.6,352.5 L384.6,354.1 L387.6,355.6 L390.6,357.2 L393.6,358.7 L396.6,360.4 L399.6,362.2 L402.6,364.1 L405.6,366.2 L408.6,368.4 L411.6,370.7 L414.6,372.9 L417.6,375.2 L420.6,377.4 L423.6,379.6 L426.6,381.8 L429.6,383.8 L432.6,385.8 L435.6,387.6 L438.6,389.3 L441.6,391.0 L444.6,392.7 L447.6,394.4 L450.6,396.1 L453.6,397.8 L456.6,399.5 L459.6,401.2 L462.6,402.9 L465.6,404.6 L468.6,406.4 L471.6,408.3 L474.6,410.4 L477.6,412.5 L480.6,414.7 L483.6,416.9 L486.6,419.1 L489.6,421.2 L492.6,423.2 L495.6,425.2 L498.6,427.2 L501.6,429.1 L504.6,430.9 L507.6,432.7 L510.6,434.5 L513.6,436.3 L516.6,438.0 L519.6,439.8 L522.6,441.5 L525.6,443.3 L528.6,445.1 L531.6,446.8 L534.6,448.6 L537.6,450.3 L540.6,451.9 L543.6,453.3 L546.6,454.3 L549.6,454.9 L552.6,455.1 L555.6,454.8 L558.6,454.1 L561.6,453.1 L564.6,451.8 L567.6,450.3 L570.6,448.9 L573.6,447.7 L576.6,446.7 L579.6,446.0 L582.6,445.5 L585.6,445.0 L588.6,444.6 L591.6,444.3 L594.6,444.0 L597.6,443.8 L600.6,443.7 L603.6,443.6 L606.6,443.7 L609.6,443.8 L612.6,444.1 L615.6,444.4 L618.6,444.8 L621.6,445.3 L624.6,445.8 L627.6,446.4 L630.6,447.0 L633.6,447.6 L636.6,448.0 L639.6,448.5 L642.6,448.8 L645.6,449.1 L648.6,449.4 L651.6,449.6 L654.6,449.7 L657.6,449.8 L660.6,449.6 L663.6,449.3 L666.6,448.7 L669.6,447.8 L672.6,446.7 L675.6,445.6 L678.6,444.4 L681.6,443.4 L684.6,442.4 L687.6,441.5 L690.6,440.7 L693.6,439.9 L696.6,439.1 L699.6,438.3 L702.6,437.5 L705.6,436.7 L708.6,436.0 L711.6,435.2 L714.6,434.5 L717.6,433.7 L720.6,433.0 L723.6,432.2 L726.6,431.5 L729.6,430.9 L732.6,430.4 L735.6,429.9 L738.6,429.5 L741.6,429.1 L744.6,428.8 L747.6,428.5 L750.6,428.2 L753.6,428.0 L756.6,427.8 L759.6,427.7 L762.6,427.7 L765.6,427.6 L768.6,427.6 L771.6,427.7 L774.6,427.8 L777.6,427.8 L780.6,427.9 L783.6,427.9 L786.6,427.9 L789.6,428.0 L792.6,428.2 L795.6,428.6 L798.6,429.1 L801.6,429.6 L804.6,430.1 L807.6,430.6 L810.6,431.1 L813.6,431.6 L816.6,432.2 L819.6,432.8 L822.6,433.4 L825.6,433.9 L828.6,434.5 L831.6,435.1 L834.6,435.7 L837.6,436.3 L840.6,436.8 L843.6,437.3 L846.6,437.7 L849.6,438.1 L852.6,438.5 L855.6,438.8 L858.6,439.2 L861.6,439.6 L864.6,440.0 L867.6,440.5 L870.6,441.1 L873.6,441.8 L876.6,442.7 L879.6,443.7 L882.6,444.8 L885.6,445.8 L888.6,446.9 L891.6,447.9 L894.6,449.0 L897.6,450.0 L900.6,451.1 L903.6,452.1 L906.6,453.2 L909.6,454.2 L912.6,455.3 L915.6,456.4 L918.6,457.5 L921.6,458.7 L924.6,460.0 L927.6,461.4 L930.6,462.9 L933.6,464.4 L936.6,465.9 L939.6,467.6 L942.6,469.4 L945.6,471.5 L948.6,474.0 L951.6,476.7 L954.6,479.6 L957.6,482.6 L960.6,485.6 L963.6,488.5 L966.6,491.3 L969.6,493.9 L972.6,496.3 L975.6,498.7 L978.6,501.1 L981.6,503.5 L984.6,506.0 L987.6,508.7 L990.6,511.4 L993.6,514.2 L996.6,516.9 L999.6,519.6 L1002.6,522.2 L1005.6,524.6 L1008.6,526.9 L1011.6,529.1 L1014.6,531.2 L1017.6,533.3 L1020.6,535.4 L1023.6,537.4 L1026.6,539.3 L1029.6,541.0 L1032.6,542.5 L1035.6,543.9 L1038.6,545.2 L1041.6,546.4 L1044.6,547.6 L1047.6,548.8 L1050.6,550.1 L1053.6,551.3 L1056.6,552.5 L1059.6,553.6 L1062.6,554.8 L1065.6,556.0 L1068.6,557.1 L1071.6,558.3 L1074.6,559.4 L1077.6,560.6 L1080.6,561.8 L1083.6,563.0 L1086.6,564.4 L1089.6,565.8 L1092.6,567.3 L1095.6,568.8 L1098.6,570.3 L1101.6,571.8 L1104.6,573.3 L1107.6,574.7 L1110.6,576.0 L1113.6,577.1 L1116.6,578.3 L1119.6,579.4 L1122.6,580.5 L1125.6,581.6 L1128.6,582.7 L1131.6,583.8 L1134.6,584.9 L1137.6,586.0 L1140.6,587.0 L1143.6,588.1 L1146.6,589.1 L1149.6,590.2 L1152.6,591.2 L1155.6,592.3 L1158.6,593.4 L1161.6,594.6 L1164.6,595.7 L1167.6,596.9 L1170.6,598.1 L1173.6,599.3 L1176.6,600.5 L1179.6,601.8 L1182.6,603.2 L1185.6,604.6 L1188.6,606.1 L1191.6,607.6 L1194.6,609.0 L1197.6,610.3 L1200.6,611.5 L1203.6,612.7 L1206.6,613.9 L1209.6,615.1 L1212.6,616.2 L1215.6,617.4 L1218.6,618.7 L1221.6,619.9 L1224.6,621.1 L1227.6,622.3 L1230.6,623.5 L1233.6,624.6 L1236.6,625.6 L1239.6,626.6 L1242.6,627.6 L1245.6,628.6 L1248.6,629.6 L1251.6,630.5 L1254.6,631.5 L1257.6,632.4 L1260.6,633.4 L1263.6,634.4 L1266.6,635.4 L1269.6,636.4 L1272.6,637.3 L1275.6,638.3 L1278.6,639.2 L1281.6,640.1 L1284.6,641.0 L1287.6,641.8 L1290.6,642.6 L1293.6,643.4 L1296.6,644.2 L1299.6,644.9 L1302.6,645.6 L1305.6,646.3 L1308.6,647.0 L1311.6,647.6 L1314.6,648.2 L1317.6,648.8 L1320.6,649.4 L1323.6,649.9 L1326.6,650.4 L1329.6,650.9 L1332.6,651.4 L1335.6,651.8 L1338.6,652.3 L1341.6,652.7 L1344.6,653.1 L1347.6,653.6 L1350.6,654.1 L1353.6,654.6 L1356.6,655.2 L1359.6,655.7 L1362.6,656.3 L1365.6,656.9 L1368.6,657.5 L1371.6,658.1 L1374.6,658.7 L1377.6,659.3 L1380.6,659.8 L1383.6,660.3 L1386.6,660.8 L1389.6,661.3 L1392.6,661.7 L1395.6,662.1 L1398.6,662.4 L1401.6,662.7 L1402.7,662.9" fill="none" stroke="#a30003" stroke-width="1.9" stroke-linejoin="round" stroke-linecap="round"/>
<g>
<rect x="18.75" y="129.5" width="1.9" height="38.5" fill="#f23645"/>
<rect x="16.45" y="146.0" width="6.5" height="5.0" fill="#f23645"/>
<rect x="25.66" y="127.5" width="1.9" height="54.5" fill="#f23645"/>
<rect x="23.36" y="147.8" width="6.5" height="12.2" fill="#f23645"/>
<rect x="32.58" y="151.4" width="1.9" height="30.6" fill="#f23645"/>
<rect x="30.28" y="153.8" width="6.5" height="14.1" fill="#f23645"/>
<rect x="39.49" y="137.4" width="1.9" height="35.5" fill="#089981"/>
<rect x="37.20" y="155.3" width="6.5" height="6.3" fill="#089981"/>
<rect x="46.41" y="125.6" width="1.9" height="43.0" fill="#089981"/>
<rect x="44.11" y="151.0" width="6.5" height="7.8" fill="#089981"/>
<rect x="53.33" y="153.8" width="1.9" height="34.4" fill="#f23645"/>
<rect x="51.03" y="153.8" width="6.5" height="18.4" fill="#f23645"/>
<rect x="60.24" y="160.0" width="1.9" height="25.8" fill="#f23645"/>
<rect x="57.94" y="163.2" width="6.5" height="12.8" fill="#f23645"/>
<rect x="67.16" y="149.4" width="1.9" height="49.4" fill="#f23645"/>
<rect x="64.86" y="169.4" width="6.5" height="5.5" fill="#f23645"/>
<rect x="74.07" y="159.3" width="1.9" height="23.4" fill="#089981"/>
<rect x="71.77" y="170.2" width="6.5" height="1.6" fill="#089981"/>
<rect x="80.98" y="151.4" width="1.9" height="26.6" fill="#089981"/>
<rect x="78.69" y="167.4" width="6.5" height="3.9" fill="#089981"/>
<rect x="87.90" y="148.3" width="1.9" height="36.7" fill="#f23645"/>
<rect x="85.60" y="168.6" width="6.5" height="1.6" fill="#f23645"/>
<rect x="94.81" y="152.2" width="1.9" height="28.9" fill="#089981"/>
<rect x="92.52" y="168.6" width="6.5" height="1.6" fill="#089981"/>
<rect x="101.73" y="153.3" width="1.9" height="27.4" fill="#f23645"/>
<rect x="99.43" y="168.6" width="6.5" height="1.6" fill="#f23645"/>
<rect x="108.64" y="162.4" width="1.9" height="20.3" fill="#f23645"/>
<rect x="106.34" y="169.1" width="6.5" height="3.8" fill="#f23645"/>
<rect x="115.56" y="164.3" width="1.9" height="58.3" fill="#f23645"/>
<rect x="113.26" y="171.0" width="6.5" height="20.3" fill="#f23645"/>
<rect x="122.47" y="180.4" width="1.9" height="41.4" fill="#f23645"/>
<rect x="120.17" y="180.4" width="6.5" height="28.4" fill="#f23645"/>
<rect x="129.39" y="194.1" width="1.9" height="41.0" fill="#f23645"/>
<rect x="127.09" y="194.1" width="6.5" height="27.2" fill="#f23645"/>
<rect x="136.31" y="185.0" width="1.9" height="56.4" fill="#f23645"/>
<rect x="134.00" y="207.3" width="6.5" height="8.3" fill="#f23645"/>
<rect x="143.22" y="189.7" width="1.9" height="28.2" fill="#089981"/>
<rect x="140.92" y="204.6" width="6.5" height="7.4" fill="#089981"/>
<rect x="150.13" y="203.4" width="1.9" height="24.2" fill="#f23645"/>
<rect x="147.83" y="207.7" width="6.5" height="9.4" fill="#f23645"/>
<rect x="157.05" y="211.3" width="1.9" height="39.7" fill="#f23645"/>
<rect x="154.75" y="211.3" width="6.5" height="22.2" fill="#f23645"/>
<rect x="163.97" y="220.0" width="1.9" height="29.5" fill="#f23645"/>
<rect x="161.66" y="221.8" width="6.5" height="15.6" fill="#f23645"/>
<rect x="170.88" y="218.4" width="1.9" height="116.1" fill="#f23645"/>
<rect x="168.58" y="229.8" width="6.5" height="48.3" fill="#f23645"/>
<rect x="177.79" y="253.2" width="1.9" height="181.7" fill="#f23645"/>
<rect x="175.49" y="253.2" width="6.5" height="106.2" fill="#f23645"/>
<rect x="184.71" y="306.6" width="1.9" height="64.0" fill="#f23645"/>
<rect x="182.41" y="306.6" width="6.5" height="56.6" fill="#f23645"/>
<rect x="191.62" y="334.5" width="1.9" height="43.2" fill="#f23645"/>
<rect x="189.32" y="334.5" width="6.5" height="31.0" fill="#f23645"/>
<rect x="198.54" y="349.8" width="1.9" height="51.3" fill="#f23645"/>
<rect x="196.24" y="349.8" width="6.5" height="31.0" fill="#f23645"/>
<rect x="205.46" y="364.5" width="1.9" height="24.2" fill="#f23645"/>
<rect x="203.16" y="364.5" width="6.5" height="17.5" fill="#f23645"/>
<rect x="212.37" y="373.1" width="1.9" height="50.4" fill="#f23645"/>
<rect x="210.07" y="373.1" width="6.5" height="23.7" fill="#f23645"/>
<rect x="219.28" y="290.0" width="1.9" height="122.5" fill="#089981"/>
<rect x="216.98" y="351.0" width="6.5" height="34.3" fill="#089981"/>
<rect x="226.20" y="306.6" width="1.9" height="62.2" fill="#089981"/>
<rect x="223.90" y="323.1" width="6.5" height="45.7" fill="#089981"/>
<rect x="233.12" y="325.6" width="1.9" height="57.2" fill="#f23645"/>
<rect x="230.81" y="346.5" width="6.5" height="3.3" fill="#f23645"/>
<rect x="240.03" y="347.2" width="1.9" height="40.2" fill="#f23645"/>
<rect x="237.73" y="347.2" width="6.5" height="26.7" fill="#f23645"/>
<rect x="246.94" y="360.4" width="1.9" height="33.1" fill="#f23645"/>
<rect x="244.64" y="360.4" width="6.5" height="20.4" fill="#f23645"/>
<rect x="253.86" y="367.0" width="1.9" height="28.0" fill="#f23645"/>
<rect x="251.56" y="369.6" width="6.5" height="14.0" fill="#f23645"/>
<rect x="260.78" y="376.5" width="1.9" height="26.1" fill="#f23645"/>
<rect x="258.48" y="376.5" width="6.5" height="14.7" fill="#f23645"/>
<rect x="267.69" y="382.8" width="1.9" height="17.8" fill="#f23645"/>
<rect x="265.39" y="384.1" width="6.5" height="6.3" fill="#f23645"/>
<rect x="274.61" y="382.0" width="1.9" height="27.0" fill="#f23645"/>
<rect x="272.31" y="387.1" width="6.5" height="11.0" fill="#f23645"/>
<rect x="281.52" y="392.5" width="1.9" height="15.7" fill="#f23645"/>
<rect x="279.22" y="392.5" width="6.5" height="11.9" fill="#f23645"/>
<rect x="288.44" y="397.5" width="1.9" height="12.0" fill="#f23645"/>
<rect x="286.13" y="397.5" width="6.5" height="7.7" fill="#f23645"/>
<rect x="295.35" y="400.6" width="1.9" height="41.9" fill="#f23645"/>
<rect x="293.05" y="400.6" width="6.5" height="22.4" fill="#f23645"/>
<rect x="302.26" y="412.0" width="1.9" height="39.4" fill="#f23645"/>
<rect x="299.96" y="412.0" width="6.5" height="26.2" fill="#f23645"/>
<rect x="309.18" y="377.2" width="1.9" height="57.2" fill="#089981"/>
<rect x="306.88" y="412.8" width="6.5" height="13.2" fill="#089981"/>
<rect x="316.10" y="399.8" width="1.9" height="47.8" fill="#f23645"/>
<rect x="313.80" y="418.9" width="6.5" height="4.1" fill="#f23645"/>
<rect x="323.01" y="420.4" width="1.9" height="44.5" fill="#f23645"/>
<rect x="320.71" y="420.4" width="6.5" height="27.2" fill="#f23645"/>
<rect x="329.93" y="434.3" width="1.9" height="31.3" fill="#f23645"/>
<rect x="327.62" y="434.3" width="6.5" height="20.8" fill="#f23645"/>
<rect x="336.84" y="443.9" width="1.9" height="16.6" fill="#f23645"/>
<rect x="334.54" y="443.9" width="6.5" height="10.2" fill="#f23645"/>
<rect x="343.75" y="432.4" width="1.9" height="27.3" fill="#f23645"/>
<rect x="341.45" y="448.0" width="6.5" height="1.2" fill="#f23645"/>
<rect x="350.67" y="440.7" width="1.9" height="16.7" fill="#f23645"/>
<rect x="348.37" y="448.5" width="6.5" height="4.3" fill="#f23645"/>
<rect x="357.58" y="443.5" width="1.9" height="30.5" fill="#f23645"/>
<rect x="355.28" y="450.4" width="6.5" height="5.6" fill="#f23645"/>
<rect x="364.50" y="416.4" width="1.9" height="37.3" fill="#089981"/>
<rect x="362.20" y="436.4" width="6.5" height="17.3" fill="#089981"/>
<rect x="371.42" y="431.8" width="1.9" height="13.4" fill="#089981"/>
<rect x="369.12" y="436.4" width="6.5" height="8.8" fill="#089981"/>
<rect x="378.33" y="413.2" width="1.9" height="28.3" fill="#089981"/>
<rect x="376.03" y="427.2" width="6.5" height="14.3" fill="#089981"/>
<rect x="385.25" y="420.1" width="1.9" height="20.4" fill="#089981"/>
<rect x="382.94" y="431.2" width="6.5" height="3.8" fill="#089981"/>
<rect x="392.16" y="432.4" width="1.9" height="29.7" fill="#f23645"/>
<rect x="389.86" y="432.4" width="6.5" height="15.7" fill="#f23645"/>
<rect x="399.07" y="440.2" width="1.9" height="30.1" fill="#f23645"/>
<rect x="396.77" y="440.2" width="6.5" height="18.5" fill="#f23645"/>
<rect x="405.99" y="449.1" width="1.9" height="36.6" fill="#f23645"/>
<rect x="403.69" y="449.1" width="6.5" height="24.5" fill="#f23645"/>
<rect x="412.91" y="461.2" width="1.9" height="29.1" fill="#f23645"/>
<rect x="410.61" y="461.2" width="6.5" height="20.8" fill="#f23645"/>
<rect x="419.82" y="471.2" width="1.9" height="25.6" fill="#f23645"/>
<rect x="417.52" y="471.2" width="6.5" height="16.7" fill="#f23645"/>
<rect x="426.74" y="478.6" width="1.9" height="34.9" fill="#f23645"/>
<rect x="424.44" y="478.6" width="6.5" height="25.3" fill="#f23645"/>
<rect x="433.65" y="490.9" width="1.9" height="34.7" fill="#f23645"/>
<rect x="431.35" y="490.9" width="6.5" height="25.1" fill="#f23645"/>
<rect x="440.56" y="499.2" width="1.9" height="20.8" fill="#f23645"/>
<rect x="438.26" y="503.0" width="6.5" height="7.8" fill="#f23645"/>
<rect x="447.48" y="490.3" width="1.9" height="16.4" fill="#089981"/>
<rect x="445.18" y="498.7" width="6.5" height="8.0" fill="#089981"/>
<rect x="454.39" y="482.3" width="1.9" height="20.5" fill="#089981"/>
<rect x="452.09" y="492.5" width="6.5" height="10.3" fill="#089981"/>
<rect x="461.31" y="476.4" width="1.9" height="29.1" fill="#089981"/>
<rect x="459.01" y="493.7" width="6.5" height="4.6" fill="#089981"/>
<rect x="468.23" y="495.3" width="1.9" height="42.4" fill="#f23645"/>
<rect x="465.93" y="495.3" width="6.5" height="23.4" fill="#f23645"/>
<rect x="475.14" y="506.5" width="1.9" height="43.3" fill="#f23645"/>
<rect x="472.84" y="506.5" width="6.5" height="31.2" fill="#f23645"/>
<rect x="482.06" y="521.9" width="1.9" height="47.7" fill="#f23645"/>
<rect x="479.75" y="521.9" width="6.5" height="29.3" fill="#f23645"/>
<rect x="488.97" y="527.5" width="1.9" height="30.3" fill="#f23645"/>
<rect x="486.67" y="536.4" width="6.5" height="6.9" fill="#f23645"/>
<rect x="495.88" y="519.1" width="1.9" height="21.0" fill="#089981"/>
<rect x="493.58" y="528.8" width="6.5" height="11.3" fill="#089981"/>
<rect x="502.80" y="521.5" width="1.9" height="13.0" fill="#089981"/>
<rect x="500.50" y="528.0" width="6.5" height="6.5" fill="#089981"/>
<rect x="509.71" y="523.4" width="1.9" height="20.8" fill="#f23645"/>
<rect x="507.41" y="531.6" width="6.5" height="1.8" fill="#f23645"/>
<rect x="516.63" y="531.7" width="1.9" height="18.1" fill="#f23645"/>
<rect x="514.33" y="531.7" width="6.5" height="8.8" fill="#f23645"/>
<rect x="523.54" y="520.0" width="1.9" height="39.0" fill="#f23645"/>
<rect x="521.25" y="536.4" width="6.5" height="7.4" fill="#f23645"/>
<rect x="530.46" y="535.5" width="1.9" height="20.4" fill="#f23645"/>
<rect x="528.16" y="539.5" width="6.5" height="8.8" fill="#f23645"/>
<rect x="537.38" y="541.4" width="1.9" height="16.4" fill="#f23645"/>
<rect x="535.08" y="544.2" width="6.5" height="3.3" fill="#f23645"/>
<rect x="544.29" y="538.2" width="1.9" height="27.4" fill="#f23645"/>
<rect x="541.99" y="545.7" width="6.5" height="8.3" fill="#f23645"/>
<rect x="551.21" y="320.3" width="1.9" height="247.5" fill="#089981"/>
<rect x="548.91" y="488.0" width="6.5" height="62.0" fill="#089981"/>
<rect x="558.12" y="370.0" width="1.9" height="149.4" fill="#089981"/>
<rect x="555.82" y="443.7" width="6.5" height="75.7" fill="#089981"/>
<rect x="565.03" y="259.7" width="1.9" height="221.9" fill="#089981"/>
<rect x="562.74" y="341.9" width="6.5" height="139.7" fill="#089981"/>
<rect x="571.95" y="300.6" width="1.9" height="122.9" fill="#089981"/>
<rect x="569.65" y="359.7" width="6.5" height="52.2" fill="#089981"/>
<rect x="578.87" y="385.5" width="1.9" height="71.6" fill="#f23645"/>
<rect x="576.57" y="385.5" width="6.5" height="38.7" fill="#f23645"/>
<rect x="585.78" y="361.3" width="1.9" height="82.2" fill="#f23645"/>
<rect x="583.48" y="404.8" width="6.5" height="7.5" fill="#f23645"/>
<rect x="592.70" y="397.7" width="1.9" height="37.8" fill="#f23645"/>
<rect x="590.40" y="408.0" width="6.5" height="8.8" fill="#f23645"/>
<rect x="599.61" y="384.8" width="1.9" height="46.5" fill="#f23645"/>
<rect x="597.31" y="412.3" width="6.5" height="1.6" fill="#f23645"/>
<rect x="606.52" y="412.9" width="1.9" height="69.4" fill="#f23645"/>
<rect x="604.23" y="412.9" width="6.5" height="31.6" fill="#f23645"/>
<rect x="613.44" y="428.4" width="1.9" height="42.6" fill="#f23645"/>
<rect x="611.14" y="428.4" width="6.5" height="34.5" fill="#f23645"/>
<rect x="620.36" y="444.5" width="1.9" height="34.5" fill="#f23645"/>
<rect x="618.06" y="444.5" width="6.5" height="28.7" fill="#f23645"/>
<rect x="627.27" y="459.0" width="1.9" height="43.3" fill="#f23645"/>
<rect x="624.97" y="459.0" width="6.5" height="29.0" fill="#f23645"/>
<rect x="634.19" y="473.2" width="1.9" height="29.4" fill="#f23645"/>
<rect x="631.89" y="473.2" width="6.5" height="21.0" fill="#f23645"/>
<rect x="641.10" y="421.6" width="1.9" height="69.7" fill="#089981"/>
<rect x="638.80" y="468.4" width="6.5" height="15.5" fill="#089981"/>
<rect x="648.01" y="456.5" width="1.9" height="20.3" fill="#089981"/>
<rect x="645.72" y="465.5" width="6.5" height="11.3" fill="#089981"/>
<rect x="654.93" y="453.9" width="1.9" height="20.9" fill="#089981"/>
<rect x="652.63" y="461.9" width="6.5" height="10.7" fill="#089981"/>
<rect x="661.85" y="446.8" width="1.9" height="20.3" fill="#089981"/>
<rect x="659.55" y="457.4" width="6.5" height="9.7" fill="#089981"/>
<rect x="668.76" y="376.5" width="1.9" height="86.4" fill="#089981"/>
<rect x="666.46" y="421.6" width="6.5" height="41.3" fill="#089981"/>
<rect x="675.67" y="323.5" width="1.9" height="119.4" fill="#089981"/>
<rect x="673.38" y="367.1" width="6.5" height="75.8" fill="#089981"/>
<rect x="682.59" y="307.4" width="1.9" height="98.4" fill="#089981"/>
<rect x="680.29" y="352.3" width="6.5" height="53.5" fill="#089981"/>
<rect x="689.50" y="359.0" width="1.9" height="56.5" fill="#f23645"/>
<rect x="687.21" y="378.4" width="6.5" height="10.3" fill="#f23645"/>
<rect x="696.42" y="383.2" width="1.9" height="34.5" fill="#f23645"/>
<rect x="694.12" y="383.2" width="6.5" height="21.6" fill="#f23645"/>
<rect x="703.34" y="388.0" width="1.9" height="22.3" fill="#f23645"/>
<rect x="701.04" y="393.5" width="6.5" height="7.1" fill="#f23645"/>
<rect x="710.25" y="362.9" width="1.9" height="57.4" fill="#089981"/>
<rect x="707.95" y="391.0" width="6.5" height="6.7" fill="#089981"/>
<rect x="717.16" y="378.4" width="1.9" height="20.0" fill="#089981"/>
<rect x="714.87" y="387.1" width="6.5" height="8.1" fill="#089981"/>
<rect x="724.08" y="316.1" width="1.9" height="77.4" fill="#089981"/>
<rect x="721.78" y="371.6" width="6.5" height="19.7" fill="#089981"/>
<rect x="731.00" y="381.3" width="1.9" height="29.0" fill="#f23645"/>
<rect x="728.70" y="381.3" width="6.5" height="14.5" fill="#f23645"/>
<rect x="737.91" y="388.7" width="1.9" height="25.8" fill="#f23645"/>
<rect x="735.61" y="388.7" width="6.5" height="18.4" fill="#f23645"/>
<rect x="744.83" y="394.7" width="1.9" height="19.2" fill="#f23645"/>
<rect x="742.53" y="397.0" width="6.5" height="9.4" fill="#f23645"/>
<rect x="751.74" y="399.2" width="1.9" height="24.8" fill="#f23645"/>
<rect x="749.44" y="402.2" width="6.5" height="10.1" fill="#f23645"/>
<rect x="758.65" y="406.7" width="1.9" height="29.0" fill="#f23645"/>
<rect x="756.36" y="406.7" width="6.5" height="19.5" fill="#f23645"/>
<rect x="765.57" y="415.7" width="1.9" height="29.6" fill="#f23645"/>
<rect x="763.27" y="415.7" width="6.5" height="21.3" fill="#f23645"/>
<rect x="772.49" y="419.5" width="1.9" height="23.1" fill="#f23645"/>
<rect x="770.19" y="426.2" width="6.5" height="6.1" fill="#f23645"/>
<rect x="779.40" y="420.6" width="1.9" height="15.8" fill="#089981"/>
<rect x="777.10" y="427.4" width="6.5" height="1.5" fill="#089981"/>
<rect x="786.32" y="416.8" width="1.9" height="18.0" fill="#089981"/>
<rect x="784.02" y="426.2" width="6.5" height="3.4" fill="#089981"/>
<rect x="793.23" y="421.3" width="1.9" height="32.4" fill="#f23645"/>
<rect x="790.93" y="427.8" width="6.5" height="7.4" fill="#f23645"/>
<rect x="800.14" y="431.2" width="1.9" height="30.3" fill="#f23645"/>
<rect x="797.85" y="431.2" width="6.5" height="20.2" fill="#f23645"/>
<rect x="807.06" y="440.9" width="1.9" height="28.5" fill="#f23645"/>
<rect x="804.76" y="440.9" width="6.5" height="21.3" fill="#f23645"/>
<rect x="813.98" y="445.3" width="1.9" height="34.9" fill="#f23645"/>
<rect x="811.68" y="450.5" width="6.5" height="14.6" fill="#f23645"/>
<rect x="820.89" y="457.7" width="1.9" height="21.8" fill="#f23645"/>
<rect x="818.59" y="457.7" width="6.5" height="15.3" fill="#f23645"/>
<rect x="827.80" y="461.1" width="1.9" height="13.5" fill="#f23645"/>
<rect x="825.50" y="465.1" width="6.5" height="6.8" fill="#f23645"/>
<rect x="834.72" y="468.3" width="1.9" height="20.2" fill="#f23645"/>
<rect x="832.42" y="468.3" width="6.5" height="10.8" fill="#f23645"/>
<rect x="841.63" y="453.7" width="1.9" height="25.8" fill="#089981"/>
<rect x="839.34" y="470.1" width="6.5" height="3.4" fill="#089981"/>
<rect x="848.55" y="455.5" width="1.9" height="19.1" fill="#089981"/>
<rect x="846.25" y="466.3" width="6.5" height="5.4" fill="#089981"/>
<rect x="855.47" y="447.6" width="1.9" height="22.5" fill="#089981"/>
<rect x="853.17" y="462.2" width="6.5" height="7.9" fill="#089981"/>
<rect x="862.38" y="453.7" width="1.9" height="13.5" fill="#089981"/>
<rect x="860.08" y="461.1" width="6.5" height="4.9" fill="#089981"/>
<rect x="869.29" y="457.7" width="1.9" height="12.4" fill="#f23645"/>
<rect x="867.00" y="462.2" width="6.5" height="1.2" fill="#f23645"/>
<rect x="876.21" y="463.8" width="1.9" height="36.0" fill="#f23645"/>
<rect x="873.91" y="463.8" width="6.5" height="18.7" fill="#f23645"/>
<rect x="883.12" y="472.8" width="1.9" height="34.9" fill="#f23645"/>
<rect x="880.83" y="472.8" width="6.5" height="28.1" fill="#f23645"/>
<rect x="890.04" y="486.5" width="1.9" height="33.1" fill="#f23645"/>
<rect x="887.74" y="486.5" width="6.5" height="24.5" fill="#f23645"/>
<rect x="896.96" y="497.8" width="1.9" height="23.3" fill="#f23645"/>
<rect x="894.66" y="497.8" width="6.5" height="16.6" fill="#f23645"/>
<rect x="903.87" y="506.5" width="1.9" height="14.6" fill="#f23645"/>
<rect x="901.57" y="506.5" width="6.5" height="11.9" fill="#f23645"/>
<rect x="910.78" y="512.4" width="1.9" height="13.9" fill="#f23645"/>
<rect x="908.49" y="512.4" width="6.5" height="10.5" fill="#f23645"/>
<rect x="917.70" y="495.5" width="1.9" height="28.6" fill="#089981"/>
<rect x="915.40" y="514.6" width="6.5" height="2.7" fill="#089981"/>
<rect x="924.62" y="510.6" width="1.9" height="31.0" fill="#f23645"/>
<rect x="922.32" y="515.5" width="6.5" height="11.5" fill="#f23645"/>
<rect x="931.53" y="521.4" width="1.9" height="21.1" fill="#f23645"/>
<rect x="929.23" y="521.4" width="6.5" height="18.4" fill="#f23645"/>
<rect x="938.45" y="530.4" width="1.9" height="39.1" fill="#f23645"/>
<rect x="936.15" y="530.4" width="6.5" height="20.2" fill="#f23645"/>
<rect x="945.36" y="540.3" width="1.9" height="28.0" fill="#f23645"/>
<rect x="943.06" y="540.3" width="6.5" height="23.5" fill="#f23645"/>
<rect x="952.27" y="551.5" width="1.9" height="268.4" fill="#f23645"/>
<rect x="949.98" y="551.5" width="6.5" height="104.7" fill="#f23645"/>
<rect x="959.19" y="603.4" width="1.9" height="89.5" fill="#f23645"/>
<rect x="956.89" y="603.4" width="6.5" height="71.8" fill="#f23645"/>
<rect x="966.11" y="638.6" width="1.9" height="34.3" fill="#f23645"/>
<rect x="963.81" y="638.6" width="6.5" height="25.5" fill="#f23645"/>
<rect x="973.02" y="637.1" width="1.9" height="19.7" fill="#089981"/>
<rect x="970.72" y="648.8" width="6.5" height="3.0" fill="#089981"/>
<rect x="979.94" y="642.1" width="1.9" height="11.1" fill="#089981"/>
<rect x="977.64" y="646.8" width="6.5" height="4.4" fill="#089981"/>
<rect x="986.85" y="644.4" width="1.9" height="23.5" fill="#f23645"/>
<rect x="984.55" y="648.0" width="6.5" height="9.1" fill="#f23645"/>
<rect x="993.76" y="652.7" width="1.9" height="28.4" fill="#f23645"/>
<rect x="991.47" y="652.7" width="6.5" height="15.2" fill="#f23645"/>
<rect x="1000.68" y="653.2" width="1.9" height="25.0" fill="#f23645"/>
<rect x="998.38" y="659.1" width="6.5" height="7.3" fill="#f23645"/>
<rect x="1007.60" y="653.2" width="1.9" height="14.1" fill="#089981"/>
<rect x="1005.30" y="661.5" width="6.5" height="2.9" fill="#089981"/>
<rect x="1014.51" y="658.2" width="1.9" height="11.2" fill="#f23645"/>
<rect x="1012.21" y="661.5" width="6.5" height="2.0" fill="#f23645"/>
<rect x="1021.42" y="638.6" width="1.9" height="33.7" fill="#089981"/>
<rect x="1019.12" y="653.8" width="6.5" height="8.8" fill="#089981"/>
<rect x="1028.34" y="616.0" width="1.9" height="43.1" fill="#089981"/>
<rect x="1026.04" y="630.4" width="6.5" height="28.7" fill="#089981"/>
<rect x="1035.25" y="616.6" width="1.9" height="29.3" fill="#089981"/>
<rect x="1032.95" y="622.4" width="6.5" height="23.5" fill="#089981"/>
<rect x="1042.17" y="618.0" width="1.9" height="16.2" fill="#089981"/>
<rect x="1039.87" y="624.5" width="6.5" height="9.7" fill="#089981"/>
<rect x="1049.09" y="609.2" width="1.9" height="20.6" fill="#089981"/>
<rect x="1046.79" y="620.4" width="6.5" height="9.4" fill="#089981"/>
<rect x="1056.00" y="605.4" width="1.9" height="21.4" fill="#089981"/>
<rect x="1053.70" y="618.0" width="6.5" height="7.4" fill="#089981"/>
<rect x="1062.91" y="613.6" width="1.9" height="21.4" fill="#f23645"/>
<rect x="1060.62" y="621.5" width="6.5" height="4.7" fill="#f23645"/>
<rect x="1069.83" y="618.0" width="1.9" height="16.2" fill="#f23645"/>
<rect x="1067.53" y="623.9" width="6.5" height="2.3" fill="#f23645"/>
<rect x="1076.75" y="613.6" width="1.9" height="12.6" fill="#089981"/>
<rect x="1074.45" y="619.5" width="6.5" height="5.9" fill="#089981"/>
<rect x="1083.66" y="615.1" width="1.9" height="25.5" fill="#f23645"/>
<rect x="1081.36" y="622.4" width="6.5" height="5.0" fill="#f23645"/>
<rect x="1090.58" y="624.5" width="1.9" height="44.9" fill="#f23645"/>
<rect x="1088.28" y="624.5" width="6.5" height="26.4" fill="#f23645"/>
<rect x="1097.49" y="637.1" width="1.9" height="38.1" fill="#f23645"/>
<rect x="1095.19" y="637.1" width="6.5" height="29.3" fill="#f23645"/>
<rect x="1104.40" y="648.8" width="1.9" height="20.6" fill="#f23645"/>
<rect x="1102.11" y="650.9" width="6.5" height="7.6" fill="#f23645"/>
<rect x="1111.32" y="634.8" width="1.9" height="20.8" fill="#089981"/>
<rect x="1109.02" y="645.9" width="6.5" height="9.7" fill="#089981"/>
<rect x="1118.23" y="638.0" width="1.9" height="12.9" fill="#089981"/>
<rect x="1115.93" y="643.0" width="6.5" height="7.9" fill="#089981"/>
<rect x="1125.15" y="635.6" width="1.9" height="12.4" fill="#089981"/>
<rect x="1122.85" y="642.4" width="6.5" height="5.6" fill="#089981"/>
<rect x="1132.07" y="637.2" width="1.9" height="11.5" fill="#089981"/>
<rect x="1129.77" y="642.8" width="6.5" height="1.5" fill="#089981"/>
<rect x="1138.98" y="631.7" width="1.9" height="21.7" fill="#f23645"/>
<rect x="1136.68" y="644.0" width="6.5" height="2.4" fill="#f23645"/>
<rect x="1145.89" y="642.3" width="1.9" height="17.6" fill="#f23645"/>
<rect x="1143.60" y="645.2" width="6.5" height="8.0" fill="#f23645"/>
<rect x="1152.81" y="648.1" width="1.9" height="11.8" fill="#f23645"/>
<rect x="1150.51" y="648.7" width="6.5" height="6.8" fill="#f23645"/>
<rect x="1159.72" y="652.0" width="1.9" height="12.0" fill="#f23645"/>
<rect x="1157.42" y="652.0" width="6.5" height="6.3" fill="#f23645"/>
<rect x="1166.64" y="654.8" width="1.9" height="11.3" fill="#f23645"/>
<rect x="1164.34" y="654.8" width="6.5" height="6.0" fill="#f23645"/>
<rect x="1173.56" y="657.5" width="1.9" height="10.3" fill="#f23645"/>
<rect x="1171.26" y="657.5" width="6.5" height="5.3" fill="#f23645"/>
<rect x="1180.47" y="660.1" width="1.9" height="29.7" fill="#f23645"/>
<rect x="1178.17" y="660.1" width="6.5" height="10.7" fill="#f23645"/>
<rect x="1187.38" y="657.5" width="1.9" height="29.9" fill="#f23645"/>
<rect x="1185.09" y="665.1" width="6.5" height="10.0" fill="#f23645"/>
<rect x="1194.30" y="670.2" width="1.9" height="26.6" fill="#f23645"/>
<rect x="1192.00" y="670.2" width="6.5" height="18.6" fill="#f23645"/>
<rect x="1201.21" y="679.0" width="1.9" height="19.0" fill="#f23645"/>
<rect x="1198.91" y="679.0" width="6.5" height="12.8" fill="#f23645"/>
<rect x="1208.13" y="677.1" width="1.9" height="13.3" fill="#089981"/>
<rect x="1205.83" y="682.7" width="6.5" height="1.8" fill="#089981"/>
<rect x="1215.05" y="668.1" width="1.9" height="39.0" fill="#f23645"/>
<rect x="1212.75" y="684.5" width="6.5" height="5.9" fill="#f23645"/>
<rect x="1221.96" y="683.0" width="1.9" height="28.5" fill="#f23645"/>
<rect x="1219.66" y="687.2" width="6.5" height="10.2" fill="#f23645"/>
<rect x="1228.88" y="680.0" width="1.9" height="14.7" fill="#089981"/>
<rect x="1226.58" y="686.2" width="6.5" height="6.5" fill="#089981"/>
<rect x="1235.79" y="675.3" width="1.9" height="14.5" fill="#089981"/>
<rect x="1233.49" y="682.5" width="6.5" height="7.3" fill="#089981"/>
<rect x="1242.70" y="677.1" width="1.9" height="9.7" fill="#089981"/>
<rect x="1240.40" y="683.0" width="6.5" height="3.8" fill="#089981"/>
<rect x="1249.62" y="682.1" width="1.9" height="7.9" fill="#f23645"/>
<rect x="1247.32" y="684.8" width="6.5" height="1.4" fill="#f23645"/>
<rect x="1256.54" y="681.3" width="1.9" height="15.5" fill="#f23645"/>
<rect x="1254.24" y="685.4" width="6.5" height="4.4" fill="#f23645"/>
<rect x="1263.45" y="682.7" width="1.9" height="8.0" fill="#f23645"/>
<rect x="1261.15" y="686.0" width="6.5" height="1.2" fill="#f23645"/>
<rect x="1270.37" y="684.1" width="1.9" height="13.9" fill="#f23645"/>
<rect x="1268.07" y="686.5" width="6.5" height="5.6" fill="#f23645"/>
<rect x="1277.28" y="688.8" width="1.9" height="14.7" fill="#f23645"/>
<rect x="1274.98" y="688.8" width="6.5" height="7.9" fill="#f23645"/>
<rect x="1284.19" y="689.4" width="1.9" height="6.2" fill="#f23645"/>
<rect x="1281.89" y="691.2" width="6.5" height="1.2" fill="#f23645"/>
<rect x="1291.11" y="689.4" width="1.9" height="8.6" fill="#f23645"/>
<rect x="1288.81" y="692.3" width="6.5" height="1.2" fill="#f23645"/>
<rect x="1298.03" y="687.2" width="1.9" height="10.8" fill="#f23645"/>
<rect x="1295.73" y="692.3" width="6.5" height="1.2" fill="#f23645"/>
<rect x="1304.94" y="679.2" width="1.9" height="21.7" fill="#089981"/>
<rect x="1302.64" y="690.4" width="6.5" height="3.1" fill="#089981"/>
<rect x="1311.86" y="677.1" width="1.9" height="15.6" fill="#089981"/>
<rect x="1309.56" y="683.7" width="6.5" height="9.0" fill="#089981"/>
<rect x="1318.77" y="679.2" width="1.9" height="8.2" fill="#089981"/>
<rect x="1316.47" y="682.1" width="6.5" height="5.3" fill="#089981"/>
<rect x="1325.68" y="682.7" width="1.9" height="7.1" fill="#f23645"/>
<rect x="1323.38" y="683.9" width="6.5" height="1.5" fill="#f23645"/>
<rect x="1332.60" y="667.1" width="1.9" height="33.2" fill="#089981"/>
<rect x="1330.30" y="682.7" width="6.5" height="4.1" fill="#089981"/>
<rect x="1339.52" y="666.3" width="1.9" height="17.6" fill="#089981"/>
<rect x="1337.22" y="670.8" width="6.5" height="13.1" fill="#089981"/>
<rect x="1346.43" y="669.2" width="1.9" height="14.9" fill="#089981"/>
<rect x="1344.13" y="676.0" width="6.5" height="1.2" fill="#089981"/>
<rect x="1353.35" y="668.1" width="1.9" height="14.6" fill="#f23645"/>
<rect x="1351.05" y="677.1" width="6.5" height="1.2" fill="#f23645"/>
<rect x="1360.26" y="678.0" width="1.9" height="18.6" fill="#f23645"/>
<rect x="1357.96" y="678.0" width="6.5" height="9.2" fill="#f23645"/>
<rect x="1367.17" y="682.1" width="1.9" height="9.4" fill="#f23645"/>
<rect x="1364.88" y="682.1" width="6.5" height="6.7" fill="#f23645"/>
<rect x="1374.09" y="672.2" width="1.9" height="19.6" fill="#f23645"/>
<rect x="1371.79" y="684.1" width="6.5" height="1.6" fill="#f23645"/>
<rect x="1381.01" y="685.9" width="1.9" height="15.4" fill="#f23645"/>
<rect x="1378.71" y="685.9" width="6.5" height="9.7" fill="#f23645"/>
<rect x="1387.92" y="690.4" width="1.9" height="10.2" fill="#f23645"/>
<rect x="1385.62" y="690.4" width="6.5" height="6.2" fill="#f23645"/>
<rect x="1394.84" y="670.6" width="1.9" height="29.1" fill="#089981"/>
<rect x="1392.54" y="685.4" width="6.5" height="8.1" fill="#089981"/>
<rect x="1401.75" y="671.2" width="1.9" height="18.6" fill="#089981"/>
<rect x="1399.45" y="677.1" width="6.5" height="12.7" fill="#089981"/>
</g>
<line x1="17.65" y1="677.6" x2="1475.5" y2="677.6" stroke="#089981" stroke-width="1.45" stroke-dasharray="1.8,2.76"/>
<text x="27.8" y="71.2" font-size="18.5" fill="#131722" textLength="373.5" lengthAdjust="spacingAndGlyphs">SOMI / TetherUS · 4h · Binance · Heikin Ashi</text>
<text x="413.6" y="71.2" font-size="18.5" fill="#131722" textLength="11.7" lengthAdjust="spacingAndGlyphs">O</text>
<text x="427.6" y="71.2" font-size="18.5" fill="#089981" textLength="60.1" lengthAdjust="spacingAndGlyphs">0.5068</text>
<text x="499.1" y="71.2" font-size="18.5" fill="#131722" textLength="11.4" lengthAdjust="spacingAndGlyphs">H</text>
<text x="512.8" y="71.2" font-size="18.5" fill="#089981" textLength="56.8" lengthAdjust="spacingAndGlyphs">0.5315</text>
<text x="581.3" y="71.2" font-size="18.5" fill="#131722" textLength="7.8" lengthAdjust="spacingAndGlyphs">L</text>
<text x="591.7" y="71.2" font-size="18.5" fill="#089981" textLength="59.5" lengthAdjust="spacingAndGlyphs">0.5068</text>
<text x="663.2" y="71.2" font-size="18.5" fill="#131722" textLength="11.4" lengthAdjust="spacingAndGlyphs">C</text>
<text x="676.2" y="71.2" font-size="18.5" fill="#089981" textLength="58.5" lengthAdjust="spacingAndGlyphs">0.5232</text>
<text x="747.1" y="71.2" font-size="18.5" fill="#089981" textLength="68.2" lengthAdjust="spacingAndGlyphs">+0.0108</text>
<text x="822.5" y="71.2" font-size="18.5" fill="#089981" textLength="75.4" lengthAdjust="spacingAndGlyphs">(+2.10%)</text>
<text x="27.8" y="97.0" font-size="18.5" fill="#131722" textLength="87.2" lengthAdjust="spacingAndGlyphs">Vol · SOMI</text>
<text x="127.6" y="97.0" font-size="18.5" fill="#26a69a" textLength="51.5" lengthAdjust="spacingAndGlyphs">3.31 M</text>
<text x="27.8" y="122.7" font-size="18.5" fill="#131722" textLength="102.1" lengthAdjust="spacingAndGlyphs">EMA 50/100</text>
<text x="142.5" y="122.7" font-size="18.5" fill="#ff0000" textLength="58.5" lengthAdjust="spacingAndGlyphs">0.5437</text>
<text x="212.9" y="122.7" font-size="18.5" fill="#00ffff" textLength="57.1" lengthAdjust="spacingAndGlyphs">0.6169</text>
<text x="1491.6" y="135.8" font-size="18" fill="#131722" textLength="59.3" lengthAdjust="spacingAndGlyphs">1.3000</text>
<text x="1491.6" y="206.4" font-size="18" fill="#131722" textLength="59.3" lengthAdjust="spacingAndGlyphs">1.2000</text>
<text x="1491.6" y="277.0" font-size="18" fill="#131722" textLength="59.3" lengthAdjust="spacingAndGlyphs">1.1000</text>
<text x="1491.6" y="347.6" font-size="18" fill="#131722" textLength="59.3" lengthAdjust="spacingAndGlyphs">1.0000</text>
<text x="1491.6" y="418.2" font-size="18" fill="#131722" textLength="59.3" lengthAdjust="spacingAndGlyphs">0.9000</text>
<text x="1491.6" y="488.9" font-size="18" fill="#131722" textLength="59.3" lengthAdjust="spacingAndGlyphs">0.8000</text>
<text x="1491.6" y="559.5" font-size="18" fill="#131722" textLength="59.3" lengthAdjust="spacingAndGlyphs">0.7000</text>
<text x="1491.6" y="630.1" font-size="18" fill="#131722" textLength="59.3" lengthAdjust="spacingAndGlyphs">0.6000</text>
<text x="1491.6" y="700.7" font-size="18" fill="#131722" textLength="59.3" lengthAdjust="spacingAndGlyphs">0.5000</text>
<text x="1491.6" y="771.3" font-size="18" fill="#131722" textLength="59.3" lengthAdjust="spacingAndGlyphs">0.4000</text>
<text x="1491.6" y="841.9" font-size="18" fill="#131722" textLength="59.3" lengthAdjust="spacingAndGlyphs">0.3000</text>
<text x="47.3" y="917.7" font-size="18.5" fill="#131722" text-anchor="middle">19</text>
<text x="130.3" y="917.7" font-size="18.5" fill="#131722" text-anchor="middle">21</text>
<text x="213.3" y="917.7" font-size="18.5" fill="#131722" text-anchor="middle">23</text>
<text x="296.2" y="917.7" font-size="18.5" fill="#131722" text-anchor="middle">25</text>
<text x="379.2" y="917.7" font-size="18.5" fill="#131722" text-anchor="middle">27</text>
<text x="462.2" y="917.7" font-size="18.5" fill="#131722" text-anchor="middle">29</text>
<text x="529.5" y="917.7" font-size="18.6" fill="#131722" textLength="31.4" lengthAdjust="spacingAndGlyphs" font-weight="bold">Oct</text>
<text x="628.2" y="917.7" font-size="18.5" fill="#131722" text-anchor="middle">3</text>
<text x="711.1" y="917.7" font-size="18.5" fill="#131722" text-anchor="middle">5</text>
<text x="794.1" y="917.7" font-size="18.5" fill="#131722" text-anchor="middle">7</text>
<text x="877.1" y="917.7" font-size="18.5" fill="#131722" text-anchor="middle">9</text>
<text x="960.1" y="917.7" font-size="18.5" fill="#131722" text-anchor="middle">11</text>
<text x="1043.1" y="917.7" font-size="18.5" fill="#131722" text-anchor="middle">13</text>
<text x="1126.0" y="917.7" font-size="18.5" fill="#131722" text-anchor="middle">15</text>
<text x="1209.0" y="917.7" font-size="18.5" fill="#131722" text-anchor="middle">17</text>
<text x="1292.0" y="917.7" font-size="18.5" fill="#131722" text-anchor="middle">19</text>
<text x="1375.0" y="917.7" font-size="18.5" fill="#131722" text-anchor="middle">21</text>
<rect x="1481.5" y="46.5" width="97.5" height="40.5" rx="6" ry="6" fill="#131316" stroke="#37373c" stroke-width="1"/>
<text x="1495.9" y="73.4" font-size="19.4" fill="#e6e6e6" textLength="48.1" lengthAdjust="spacingAndGlyphs" stroke="#e6e6e6" stroke-width="0.45">USDT</text>
<path d="M1477.1,598.9 H1557.3999999999999 Q1560.3999999999999,598.9 1560.3999999999999,601.9 V621.1 Q1560.3999999999999,624.1 1557.3999999999999,624.1 H1477.1 Z" fill="#00ffff"/>
<text x="1490" y="618.0" font-size="18.5" fill="#000000" textLength="61" lengthAdjust="spacingAndGlyphs">0.6169</text>
<path d="M1477.1,638.8 H1557.3999999999999 Q1560.3999999999999,638.8 1560.3999999999999,641.8 V661.0 Q1560.3999999999999,664.0 1557.3999999999999,664.0 H1477.1 Z" fill="#ff0000"/>
<text x="1490" y="657.9" font-size="18.5" fill="#ffffff" textLength="61" lengthAdjust="spacingAndGlyphs">0.5437</text>
<path d="M1477.1,664.8 H1574.3 Q1577.3,664.8 1577.3,667.8 V708.1999999999999 Q1577.3,711.1999999999999 1574.3,711.1999999999999 H1477.1 Z" fill="#089981"/>
<text x="1490" y="683.8" font-size="18.5" fill="#ffffff" textLength="61" lengthAdjust="spacingAndGlyphs">0.5232</text>
<text x="1490" y="705.2" font-size="18.5" fill="#c4e5df" textLength="78" lengthAdjust="spacingAndGlyphs">01:13:33</text>
<path d="M1477.1,712.0 H1557.3999999999999 Q1560.3999999999999,712.0 1560.3999999999999,715.0 V734.3 Q1560.3999999999999,737.3 1557.3999999999999,737.3 H1477.1 Z" fill="#f23645"/>
<text x="1490" y="731.2" font-size="18.5" fill="#ffffff" textLength="59.5" lengthAdjust="spacingAndGlyphs">0.5221</text>
<path d="M1477.0,863.0 H1552.8 Q1555.8,863.0 1555.8,866.0 V886.2 Q1555.8,889.2 1552.8,889.2 H1477.0 Z" fill="#26a69a"/>
<text x="1489.5" y="882.6" font-size="18.5" fill="#ffffff" textLength="56" lengthAdjust="spacingAndGlyphs">3.31 M</text>
<circle cx="1402.5" cy="870.1" r="14.95" fill="#111114" stroke="#b248d0" stroke-width="2.8"/>
<path d="M1407.0,862.6 L1396.9,870.3 L1402.0,871.3 L1398.3,877.5 L1408.9,869.4 L1404.0,868.8 Z" fill="#b248d0" stroke="#b248d0" stroke-width="0.4" stroke-linejoin="round"/>
<g fill="#131313">
<path d="M18.1,965 H36 V987.7 H27.1 V973.9 H18.1 Z"/>
<circle cx="43.6" cy="968.7" r="3.75"/>
<path d="M52.6,965 H63.6 L54.7,987.7 H43.6 Z"/>
</g>
<g fill="#131313" stroke="none">
<rect x="74.4" y="965" width="16.5" height="4.6"/><rect x="80.5" y="965" width="4.5" height="22.7"/>
<rect x="91.2" y="971.6" width="4.4" height="16.1"/>
<rect x="114.2" y="971.6" width="4.4" height="16.1"/>
<rect x="133.8" y="965" width="4.4" height="22.7"/>
<rect x="141.3" y="971.6" width="4.4" height="16.1"/><circle cx="143.5" cy="966.9" r="2.8"/>
<rect x="149.1" y="971.6" width="4.3" height="16.1"/>
<path d="M183.1,965 H188.2 L194.85,981.2 L201,965 H205.9 L197.4,987.7 H192.4 Z"/>
<rect x="208.1" y="971.6" width="4.4" height="16.1"/><circle cx="210.3" cy="966.9" r="2.8"/>
<path d="M232.2,971.6 H236.8 L239.6,981.7 L243.1,971.6 H246.9 L250.4,981.6 L253.1,971.6 H257.8 L252.5,987.7 H248.75 L245,977 L241.25,987.7 H237.5 Z"/>
</g>
<g fill="none" stroke="#131313" stroke-width="4.3">
<path d="M93.4,981.5 V980.5 A6.9,6.9 0 0 1 100.3,973.7"/>
<circle cx="110.0" cy="979.4" r="6.5"/>
<circle cx="129.6" cy="979.4" r="6.5"/>
<path d="M151.25,980 V978.4 A5.33,5.6 0 0 1 161.9,978.4 V987.7"/>
<circle cx="175.3" cy="979.4" r="6.55"/>
<path d="M181.6,971.6 V986.3 A6.5,6.5 0 0 1 175.1,992.8 Q171.2,992.8 168.6,990.2"/>
<path d="M228.9,983.2 A6.55,6.55 0 1 1 230.15,979.6"/>
<path d="M218.5,978.7 H231.5" stroke-width="3.4"/>
</g>
</svg></body></html>
